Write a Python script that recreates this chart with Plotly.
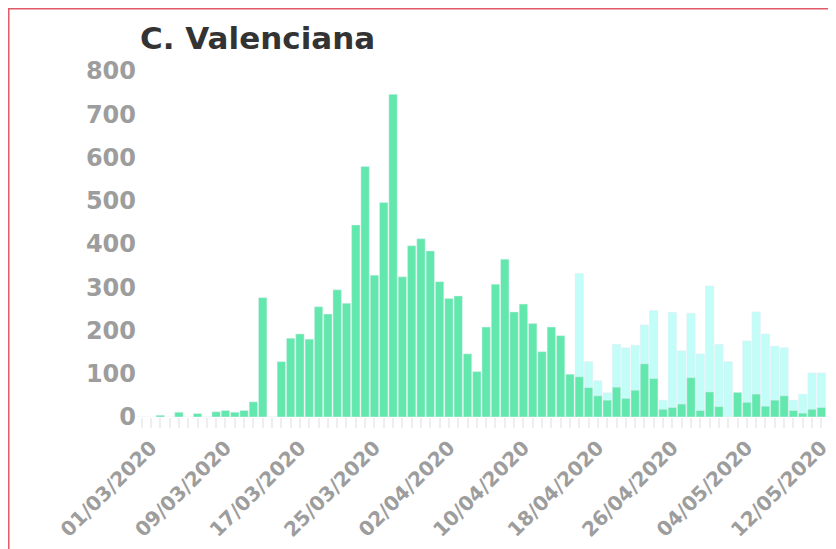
import pandas as pd
import plotly.graph_objects as go

# daily values, 29/02/2020 .. 12/05/2020
dates = pd.date_range("2020-02-29", "2020-05-12", freq="D")

nuevos = [0, 0, 4, 0, 11, 0, 8, 0, 12, 15,
          11, 15, 35, 276, 0, 128, 182, 192, 180, 255,
          238, 294, 263, 444, 579, 328, 496, 746, 324, 396,
          412, 384, 313, 274, 280, 146, 105, 208, 307, 365,
          243, 261, 216, 151, 208, 188, 99, 93, 68, 49,
          39, 69, 43, 62, 123, 89, 18, 22, 30, 91,
          15, 58, 24, 0, 57, 34, 53, 25, 39, 49,
          15, 9, 18, 22]

otros = [None] * 47 + [332, 128, 84, 56, 168, 160, 166, 213, 246, 39,
                       242, 153, 240, 146, 303, 168, 128, None, 176, 243,
                       192, 164, 160, 39, 53, 102, 102]

y_ticks = [0, 100, 200, 300, 400, 500, 600, 700, 800]

GREEN = "#62e8ac"
CYAN = "#c2fdf8"
GREY = "#9d9d9d"

# the page body has an 8px margin, so the figure is sized to fit what is left
W, H = 828, 541

fig = go.Figure()
fig.add_trace(go.Bar(x=dates, y=otros, marker_color=CYAN, hoverinfo="x+y"))
fig.add_trace(go.Bar(x=dates, y=nuevos, marker_color=GREEN, hoverinfo="x+y"))

fig.update_layout(
    width=W, height=H,
    barmode="overlay", bargap=0.1,
    showlegend=False,
    plot_bgcolor="white", paper_bgcolor="white",
    margin=dict(l=129, r=10, t=63, b=132),
    title=dict(
        text="C. Valenciana",
        x=132 / W, xanchor="left",
        y=1 - 30 / H, yanchor="middle",
        font=dict(family="DejaVu Sans", size=31, color="#333333", weight="bold")),
    font=dict(family="DejaVu Sans"),
)

fig.update_xaxes(
    type="date",
    range=["2020-02-28 12:00", "2020-05-12 12:00"],
    tick0="2020-03-01", dtick=8 * 86400000,
    tickformat="%d/%m/%Y", tickangle=-45,
    tickfont=dict(family="DejaVu Sans", size=20, color=GREY, weight="bold"),
    ticks="outside", ticklen=10, tickwidth=2, tickcolor="#eeeeee",
    minor=dict(dtick=86400000, ticks="outside", ticklen=10, tickwidth=2,
               tickcolor="#eeeeee", showgrid=False),
    showgrid=False, showline=False, zeroline=False, automargin=False,
)

fig.update_yaxes(
    range=[0, 800], tickvals=y_ticks,
    tickfont=dict(family="DejaVu Sans", size=24, color=GREY, weight="bold"),
    showgrid=False, showline=False, zeroline=False, ticks="", automargin=False,
)

# thin red frame around the card
fig.add_shape(type="rect", xref="paper", yref="paper",
              x0=-0.1861, x1=1.2, y0=-0.6, y1=1.1799,
              line=dict(color="#e05a6a", width=1.5), fillcolor="rgba(0,0,0,0)",
              layer="below")

fig.write_html("out.html")
